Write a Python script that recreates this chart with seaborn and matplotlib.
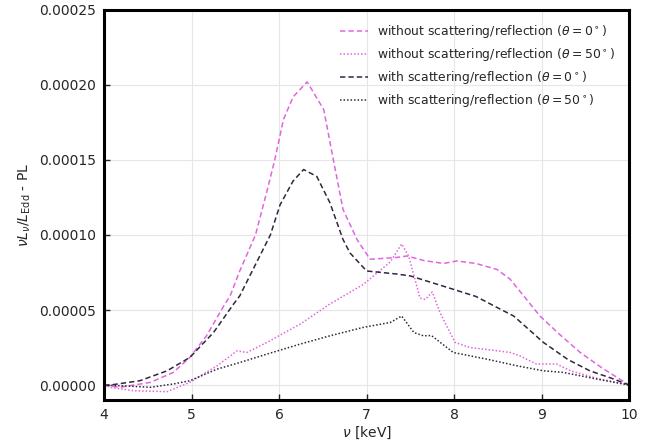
import numpy as np
import pandas as pd
import matplotlib
matplotlib.use("Agg")
import matplotlib.pyplot as plt
import seaborn as sns
from matplotlib.ticker import FormatStrFormatter

labels = [
    r"without scattering/reflection ($\theta=0^\circ$)",
    r"without scattering/reflection ($\theta=50^\circ$)",
    r"with scattering/reflection ($\theta=0^\circ$)",
    r"with scattering/reflection ($\theta=50^\circ$)",
]

# without, theta=0 (values in units of 1e-5)
x_wo0 = [4.0, 4.18, 4.53, 4.79, 4.98, 5.17, 5.36, 5.44, 5.55, 5.73, 5.86, 5.95, 6.05, 6.16, 6.32, 6.51, 6.62, 6.73, 6.89, 7.04, 7.34, 7.46, 7.65, 7.88, 8.03, 8.25, 8.49, 8.64, 8.8, 8.98, 9.2, 9.44, 9.7, 10.0]
y_wo0 = [0.0, -0.15, 0.18, 0.84, 1.84, 3.28, 5.2, 5.94, 7.6, 10.0, 12.9, 15.0, 17.7, 19.2, 20.2, 18.35, 15.0, 11.7, 9.7, 8.38, 8.5, 8.6, 8.3, 8.1, 8.27, 8.1, 7.7, 7.05, 5.9, 4.6, 3.4, 2.17, 1.1, 0.0]

# without, theta=50
x_wo50 = [4.0, 4.07, 4.34, 4.72, 4.98, 5.29, 5.52, 5.63, 5.86, 6.24, 6.58, 6.96, 7.27, 7.40, 7.48, 7.61, 7.67, 7.75, 7.84, 8.01, 8.18, 8.40, 8.64, 8.75, 8.94, 9.17, 9.33, 9.63, 10.0]
y_wo50 = [0.0, -0.15, -0.38, -0.44, 0.18, 1.28, 2.28, 2.17, 2.84, 4.06, 5.4, 6.7, 8.2, 9.4, 8.6, 5.8, 5.7, 6.2, 4.8, 2.84, 2.5, 2.35, 2.17, 1.95, 1.4, 1.4, 0.95, 0.45, 0.0]

# with, theta=0
x_w0 = [4.0, 4.07, 4.41, 4.72, 4.98, 5.25, 5.48, 5.55, 5.71, 5.90, 6.01, 6.16, 6.28, 6.43, 6.58, 6.73, 6.81, 7.0, 7.34, 7.50, 7.99, 8.25, 8.49, 8.68, 9.02, 9.3, 9.55, 9.8, 10.0]
y_w0 = [0.0, 0.0, 0.29, 0.95, 1.84, 3.5, 5.4, 5.94, 7.8, 10.0, 12.0, 13.6, 14.36, 13.9, 12.15, 9.7, 8.8, 7.6, 7.4, 7.27, 6.38, 5.9, 5.17, 4.6, 2.84, 1.7, 0.95, 0.45, 0.0]

# with, theta=50
x_w50 = [4.0, 4.18, 4.53, 4.79, 4.98, 5.29, 5.55, 5.86, 6.24, 6.58, 6.96, 7.27, 7.40, 7.54, 7.65, 7.74, 7.99, 8.37, 8.72, 9.02, 9.25, 9.63, 10.0]
y_w50 = [0.0, -0.04, -0.15, 0.07, 0.29, 1.06, 1.5, 2.06, 2.73, 3.28, 3.84, 4.17, 4.6, 3.5, 3.28, 3.3, 2.17, 1.73, 1.28, 0.95, 0.84, 0.4, 0.0]

xs = [x_wo0, x_wo50, x_w0, x_w50]
ys = [y_wo0, y_wo50, y_w0, y_w50]

frames = []
for lab, xx, yy in zip(labels, xs, ys):
    frames.append(pd.DataFrame({"E": xx, "val": np.array(yy) * 1e-5, "series": lab}))
df = pd.concat(frames, ignore_index=True)

pink = "#e066e0"
dark = "#35243f"
palette = {labels[0]: pink, labels[1]: pink, labels[2]: dark, labels[3]: dark}
dashes = {labels[0]: (3.5, 2), labels[1]: (1, 1.3), labels[2]: (3.5, 2), labels[3]: (1, 1.3)}

sns.set_style("white")
plt.rcParams["font.family"] = ["DejaVu Sans"]

fig = plt.figure(figsize=(6.63, 4.47), dpi=100)
ax = fig.add_axes([0.157, 0.105, 0.792, 0.873])

sns.lineplot(data=df, x="E", y="val", hue="series", style="series",
             hue_order=labels, style_order=labels, palette=palette,
             dashes=dashes, linewidth=1.1, ax=ax, sort=False, estimator=None)

ax.set_xlim(4, 10)
ax.set_ylim(-1e-5, 2.5e-4)
ax.set_xticks([4, 5, 6, 7, 8, 9, 10])
ax.set_yticks([0, 5e-5, 1e-4, 1.5e-4, 2e-4, 2.5e-4])
ax.yaxis.set_major_formatter(FormatStrFormatter("%.5f"))
ax.grid(True, color="#e6e6e6", linewidth=0.8)
ax.set_axisbelow(True)
ax.tick_params(direction="in", length=4, width=1, labelsize=10, left=True, bottom=True, pad=6)
for s in ax.spines.values():
    s.set_linewidth(2.2)
    s.set_color("black")

ax.set_xlabel(r"$\nu$ [keV]", fontsize=10, labelpad=2)
ax.set_ylabel(r"$\nu L_\nu/L_{\rm Edd}$ - PL", fontsize=10)

leg = ax.legend(loc="upper right", frameon=False, fontsize=8.9, handlelength=2.2,
                handletextpad=0.8, labelspacing=0.5, bbox_to_anchor=(0.995, 0.995))

fig.savefig("out.png", dpi=100)
